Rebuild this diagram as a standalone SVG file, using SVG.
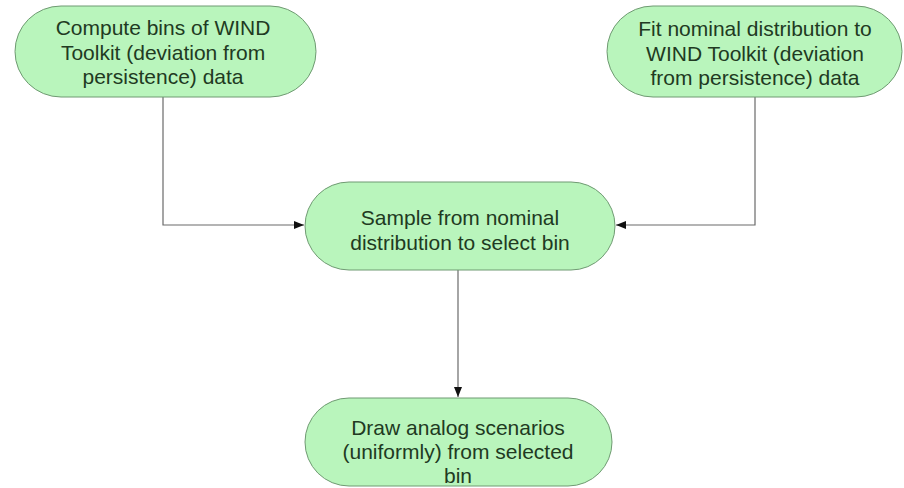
<svg xmlns="http://www.w3.org/2000/svg" width="904" height="488" viewBox="0 0 904 488">
<style>
.node{fill:#b9f5bc;stroke:#6f9a72;stroke-width:1}
.t{font-family:"Liberation Sans",Arial,sans-serif;font-size:21px;fill:#213a22;text-anchor:middle}
.edge{fill:none;stroke:#6a6a6a;stroke-width:1.2}
</style>
<defs>
<marker id="ah" viewBox="0 0 10 10" refX="10" refY="5" markerWidth="10" markerHeight="10" markerUnits="userSpaceOnUse" orient="auto">
<path d="M0,1 L10,5 L0,9 z" fill="#111"/>
</marker>
</defs>
<rect width="904" height="488" fill="#fff"/>
<g id="connectors">
<path class="edge" d="M163,97 V225 H304" marker-end="url(#ah)"/>
<path class="edge" d="M755,97 V225 H616" marker-end="url(#ah)"/>
<path class="edge" d="M458,270 V397" marker-end="url(#ah)"/>
</g>
<g id="n1">
<rect class="node" x="15" y="6" width="301" height="91" rx="46" ry="45.5"/>
<text class="t" x="163" y="35">Compute bins of WIND</text>
<text class="t" x="163" y="60">Toolkit (deviation from</text>
<text class="t" x="163" y="84">persistence) data</text>
</g>
<g id="n2">
<rect class="node" x="607" y="6" width="295" height="91" rx="46" ry="45.5"/>
<text class="t" x="755" y="36">Fit nominal distribution to</text>
<text class="t" x="755" y="61">WIND Toolkit (deviation</text>
<text class="t" x="755" y="85">from persistence) data</text>
</g>
<g id="n3">
<rect class="node" x="305" y="182" width="310" height="88" rx="44" ry="44"/>
<text class="t" x="460" y="225">Sample from nominal</text>
<text class="t" x="460" y="250">distribution to select bin</text>
</g>
<g id="n4">
<rect class="node" x="305" y="398" width="307" height="88" rx="44" ry="44"/>
<text class="t" x="458" y="435">Draw analog scenarios</text>
<text class="t" x="458" y="459">(uniformly) from selected</text>
<text class="t" x="458" y="483">bin</text>
</g>
</svg>
